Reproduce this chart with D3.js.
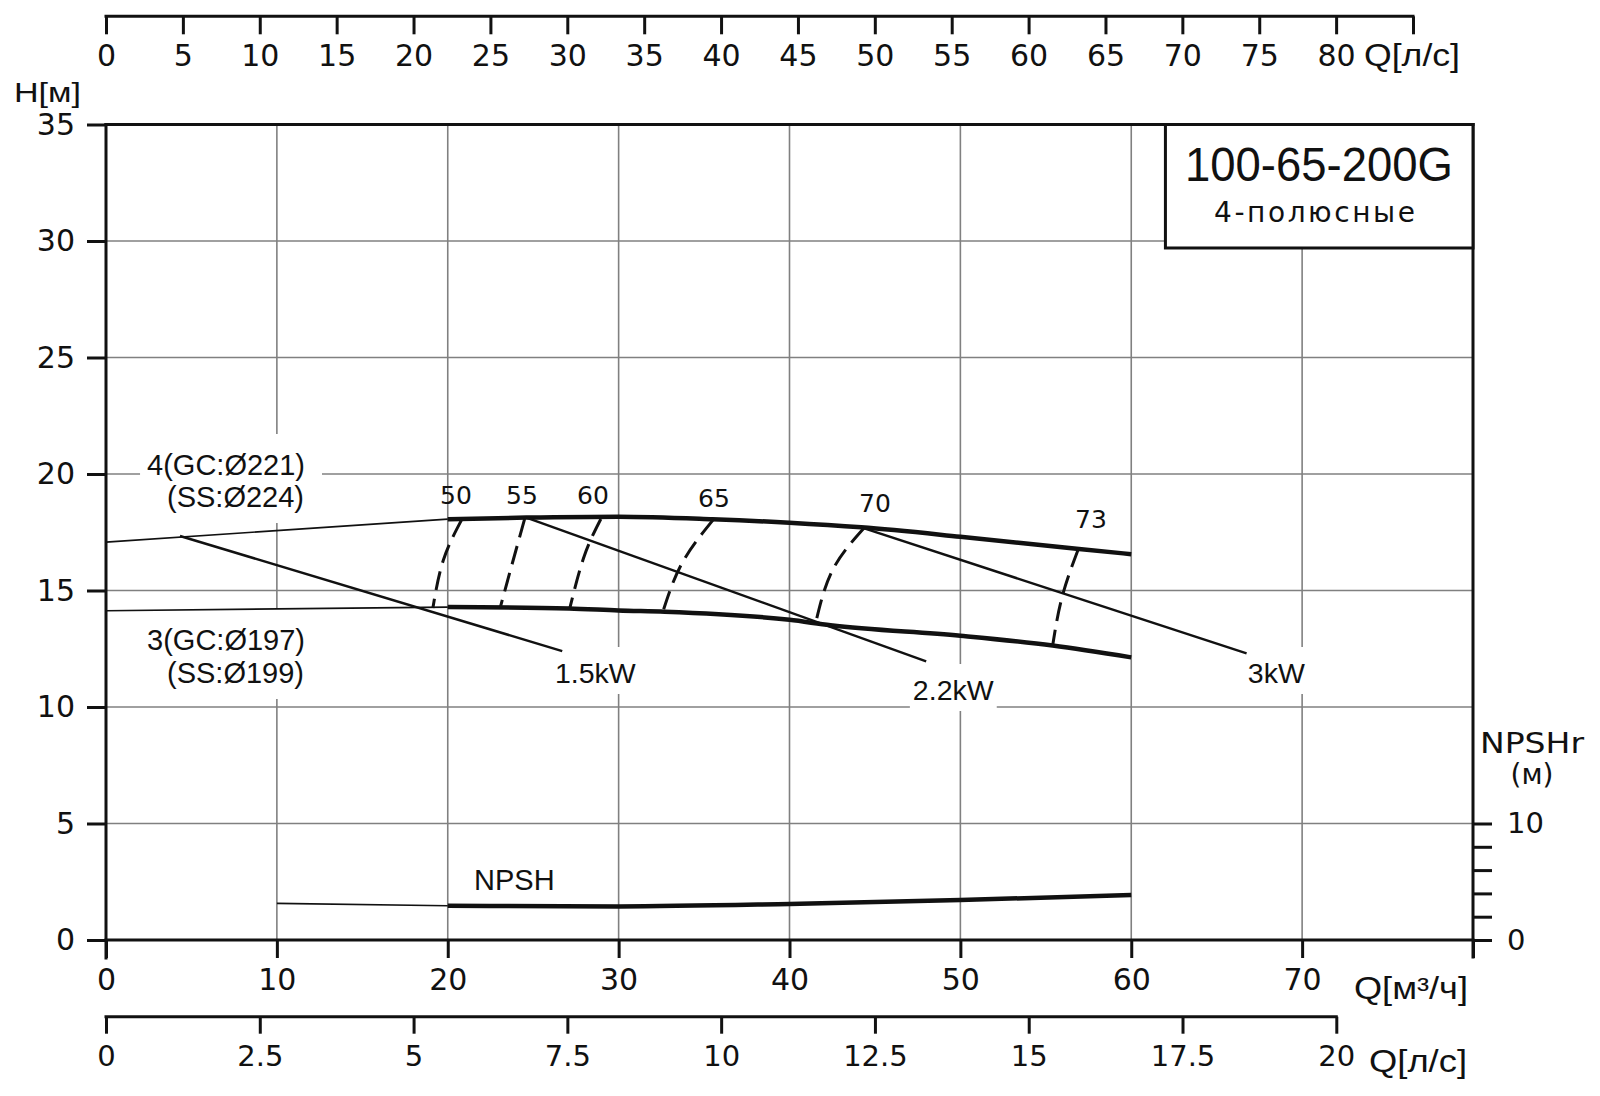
<!DOCTYPE html>
<html><head><meta charset="utf-8">
<script src="https://cdn.jsdelivr.net/npm/d3@7"></script>
<style>body{margin:0;background:#fff}svg{display:block}</style>
</head><body><svg id="c" width="1600" height="1096"></svg>
<script>
// ---------------- DATA ----------------
const mainTicksQ = [0,10,20,30,40,50,60,70,80];
const mainTickLabelsQ = ["0","10","20","30","40","50","60","70",""];
const headTicks = [0,5,10,15,20,25,30,35];
const gridQ = [10,20,30,40,50,60,70];
const gridH = [5,10,15,20,25,30];
const topLsTicks = [0,5,10,15,20,25,30,35,40,45,50,55,60,65,70,75,80,85];
const topLsLabels = ["0","5","10","15","20","25","30","35","40","45","50","55","60","65","70","75","80",""];
const botLsTicks = [0,2.5,5,7.5,10,12.5,15,17.5,20];
const botLsLabels = ["0","2.5","5","7.5","10","12.5","15","17.5","20"];
const npshTicks = [0,2,4,6,8,10];
const npshTickLabels = ["0","","","","","10"];

// impeller curve 4 (Ø221 / Ø224)
const curve4Q = [0, 20, 24.6, 30, 35.5, 40, 44.2, 50, 56.8, 60];
const curve4H = [17.08, 18.06, 18.13, 18.17, 18.06, 17.91, 17.71, 17.31, 16.79, 16.56];
// impeller curve 3 (Ø197 / Ø199)
const curve3Q = [0, 20, 27.1, 30, 32.7, 40, 42.4, 50, 55.4, 60];
const curve3H = [14.13, 14.29, 14.23, 14.14, 14.09, 13.74, 13.51, 13.06, 12.64, 12.13];
// NPSHr (m)
const npshQ = [10, 20, 30, 40, 50, 60];
const npshR = [3.15, 2.94, 2.88, 3.09, 3.43, 3.86];

// power lines
const powerLabels = ["1.5kW", "2.2kW", "3kW"];
const powerStartQ = [4.33, 24.6, 44.2];
const powerStartH = [17.34, 18.13, 17.71];
const powerEndQ = [26.7, 48.0, 66.75];
const powerEndH = [12.4, 11.96, 12.3];
const powerLabelQ = [26.27, 47.22, 66.82];
const powerLabelH = [11.03, 10.3, 11.03];

// iso-efficiency (%)
const effLabels = ["50", "55", "60", "65", "70", "73"];
const effTopQ = [20.81, 24.5, 28.96, 35.53, 44.35, 56.9];
const effTopH = [18.03, 18.07, 18.07, 18.03, 17.67, 16.77];
const effMidQ = [19.74, 23.78, 27.98, 33.71, 42.53, 55.96];
const effMidH = [16.3, 16.17, 16.46, 16.17, 15.89, 14.74];
const effBotQ = [19.13, 23.08, 27.14, 32.59, 41.55, 55.4];
const effBotH = [14.25, 14.29, 14.23, 14.09, 13.67, 12.64];
const effLabelQ = [20.48, 24.34, 28.5, 35.58, 45.0, 57.64];
const effLabelH = [18.71, 18.71, 18.71, 18.58, 18.37, 17.68];

// texts
const diaLabels4 = ["4(GC:Ø221)", "(SS:Ø224)"];
const diaLabels3 = ["3(GC:Ø197)", "(SS:Ø199)"];
const titleText = "100-65-200G";
const subtitleText = "4-полюсные";

// ---------------- SETUP ----------------
const F = "'Liberation Sans', Arial, sans-serif";
const G = "'DejaVu Sans', sans-serif";
const svg = d3.select("#c");
const x = d3.scaleLinear().domain([0, 80]).range([106, 1473]);
const y = d3.scaleLinear().domain([0, 35]).range([940, 124.5]);
const yN = d3.scaleLinear().domain([0, 10]).range([y(0), y(5)]);
const xTop = d3.scaleLinear().domain([0, 85]).range([106, 1413]);
const xLs = d3.scaleLinear().domain([0, 20]).range([x(0), x(72)]);

const gGrid = svg.append("g");
const gBg = svg.append("g");
const gCurves = svg.append("g");
const gText = svg.append("g");
const gAxes = svg.append("g");

// grid
gGrid.selectAll("line.v").data(gridQ).join("line")
  .attr("x1", d => x(d)).attr("x2", d => x(d)).attr("y1", y(35)).attr("y2", y(0))
  .attr("stroke", "#808080").attr("stroke-width", 1.6);
gGrid.selectAll("line.h").data(gridH).join("line")
  .attr("x1", x(0)).attr("x2", x(80)).attr("y1", d => y(d)).attr("y2", d => y(d))
  .attr("stroke", "#808080").attr("stroke-width", 1.6);

// ---------------- CURVES ----------------
function drawQH(Q, Hs, thinUntil, yS) {
  const pts = Q.map((q, i) => [q, Hs[i]]);
  const ln = d3.line().x(d => x(d[0])).y(d => yS(d[1]));
  const lnS = d3.line().x(d => x(d[0])).y(d => yS(d[1])).curve(d3.curveMonotoneX);
  const thin = pts.filter(p => p[0] <= thinUntil);
  const thick = pts.filter(p => p[0] >= thinUntil);
  gCurves.append("path").attr("d", ln(thin)).attr("fill", "none")
    .attr("stroke", "#111").attr("stroke-width", 1.7);
  gCurves.append("path").attr("d", lnS(thick)).attr("fill", "none")
    .attr("stroke", "#111").attr("stroke-width", 4.5).attr("stroke-linecap", "butt");
}
drawQH(curve4Q, curve4H, 20, y);
drawQH(curve3Q, curve3H, 20, y);
drawQH(npshQ, npshR, 20, yN);

// power lines
powerLabels.forEach((lab, i) => {
  gCurves.append("line")
    .attr("x1", x(powerStartQ[i])).attr("y1", y(powerStartH[i]))
    .attr("x2", x(powerEndQ[i])).attr("y2", y(powerEndH[i]))
    .attr("stroke", "#111").attr("stroke-width", 2.5);
});

// efficiency dashed curves
const effLine = d3.line().x(d => x(d[0])).y(d => y(d[1])).curve(d3.curveNatural);
effLabels.forEach((lab, i) => {
  const pts = [[effTopQ[i], effTopH[i]], [effMidQ[i], effMidH[i]], [effBotQ[i], effBotH[i]]];
  gCurves.append("path").attr("d", effLine(pts)).attr("fill", "none")
    .attr("stroke", "#111").attr("stroke-width", 3).attr("stroke-dasharray", "19,9");
});

// ---------------- TEXT ----------------
function addBg(sel, pad) {
  const b = sel.node().getBBox();
  gBg.append("rect").attr("x", b.x - pad[0]).attr("y", b.y - pad[1])
    .attr("width", b.width + pad[0] + pad[2]).attr("height", b.height + pad[1] + pad[3])
    .attr("fill", "#fff");
}

effLabels.forEach((lab, i) => {
  gText.append("text").attr("x", x(effLabelQ[i])).attr("y", y(effLabelH[i]))
    .attr("text-anchor", "middle").attr("font-family", G).attr("font-size", 25)
    .attr("fill", "#111").text(lab);
});

powerLabels.forEach((lab, i) => {
  const t = gText.append("text").attr("x", x(powerLabelQ[i])).attr("y", y(powerLabelH[i]))
    .attr("font-family", F).attr("font-size", 28.5).attr("fill", "#111").text(lab);
  addBg(t, [3, 10, 3, 5]);
});

function diaBlock(lines, b1, b2) {
  const g = gText.append("g");
  g.append("text").attr("x", 305).attr("y", b1).attr("text-anchor", "end")
    .attr("font-family", F).attr("font-size", 29).attr("fill", "#111").text(lines[0]);
  g.append("text").attr("x", 304).attr("y", b2).attr("text-anchor", "end")
    .attr("font-family", F).attr("font-size", 29).attr("fill", "#111").text(lines[1]);
  addBg(g, [7, 15, 17, 10]);
}
diaBlock(diaLabels4, 475, 507);
diaBlock(diaLabels3, 650, 683);

gText.append("text").attr("x", 474).attr("y", 890)
  .attr("font-family", F).attr("font-size", 29).attr("fill", "#111").text("NPSH");

// ---------------- AXES ----------------
function styleAxis(g) {
  g.select(".domain").remove();
  g.selectAll(".tick line").attr("stroke", "#111").attr("stroke-width", 3);
  g.selectAll(".tick text").attr("fill", "#111");
}

// left H axis
const axL = gAxes.append("g").attr("transform", `translate(${x(0)},0)`)
  .call(d3.axisLeft(y).tickValues(headTicks).tickSize(19).tickPadding(12).tickSizeOuter(0));
styleAxis(axL);
axL.selectAll(".tick text").attr("font-family", G).attr("font-size", 30);

// bottom Q m3/h axis
const axB = gAxes.append("g").attr("transform", `translate(0,${y(0)})`)
  .call(d3.axisBottom(x).tickValues(mainTicksQ).tickSize(18).tickPadding(11)
    .tickFormat((d, i) => mainTickLabelsQ[i]).tickSizeOuter(0));
styleAxis(axB);
axB.selectAll(".tick text").attr("font-family", G).attr("font-size", 30);

// top l/s axis
const yTopAxis = 16.3;
const axT = gAxes.append("g").attr("transform", `translate(0,${yTopAxis})`)
  .call(d3.axisBottom(xTop).tickValues(topLsTicks).tickSize(18).tickPadding(10)
    .tickFormat((d, i) => topLsLabels[i]).tickSizeOuter(0));
styleAxis(axT);
axT.selectAll(".tick text").attr("font-family", G).attr("font-size", 30);

// bottom l/s axis
const yLsAxis = 1016.7;
const axLs = gAxes.append("g").attr("transform", `translate(0,${yLsAxis})`)
  .call(d3.axisBottom(xLs).tickValues(botLsTicks).tickSize(17).tickPadding(12)
    .tickFormat((d, i) => botLsLabels[i]).tickSizeOuter(0));
styleAxis(axLs);
axLs.selectAll(".tick text").attr("font-family", G).attr("font-size", 29);

// right NPSHr axis
const axR = gAxes.append("g").attr("transform", `translate(${x(80)},0)`)
  .call(d3.axisRight(yN).tickValues(npshTicks).tickSize(19).tickPadding(15)
    .tickFormat((d, i) => npshTickLabels[i]).tickSizeOuter(0));
styleAxis(axR);
axR.selectAll(".tick text").attr("font-family", G).attr("font-size", 29);

// frame / axis lines
const frame = [
  [x(0), y(35), x(0), y(0) + 18],
  [x(0), y(35), x(80), y(35)],
  [x(80), y(35), x(80), y(0) + 17],
  [x(0), y(0), x(80), y(0)],
  [xTop(0), yTopAxis, xTop(85), yTopAxis],
  [xLs(0), yLsAxis, xLs(20), yLsAxis]
];
gAxes.selectAll("line.frame").data(frame).join("line")
  .attr("x1", d => d[0]).attr("y1", d => d[1]).attr("x2", d => d[2]).attr("y2", d => d[3])
  .attr("stroke", "#111").attr("stroke-width", 3).attr("stroke-linecap", "square");

// axis titles
gAxes.append("text").attr("x", 14).attr("y", 101.5).attr("font-family", F).attr("font-size", 28)
  .attr("textLength", 67).attr("lengthAdjust", "spacingAndGlyphs").attr("fill", "#111").text("H[м]");
gAxes.append("text").attr("x", 1364).attr("y", 66).attr("font-family", F).attr("font-size", 31)
  .attr("textLength", 96).attr("lengthAdjust", "spacingAndGlyphs").attr("fill", "#111").text("Q[л/с]");
gAxes.append("text").attr("x", 1354).attr("y", 999).attr("font-family", F).attr("font-size", 31)
  .attr("textLength", 114).attr("lengthAdjust", "spacingAndGlyphs").attr("fill", "#111").text("Q[м³/ч]");
gAxes.append("text").attr("x", 1369).attr("y", 1072).attr("font-family", F).attr("font-size", 31)
  .attr("textLength", 98).attr("lengthAdjust", "spacingAndGlyphs").attr("fill", "#111").text("Q[л/с]");
gAxes.append("text").attr("x", 1532).attr("y", 752.5).attr("text-anchor", "middle")
  .attr("font-family", G).attr("font-size", 28).attr("textLength", 104).attr("lengthAdjust", "spacingAndGlyphs")
  .attr("fill", "#111").text("NPSHr");
gAxes.append("text").attr("x", 1532).attr("y", 784).attr("text-anchor", "middle")
  .attr("font-family", G).attr("font-size", 28).attr("fill", "#111").text("(м)");

// title box
const boxQ0 = 62.0, boxH1 = 29.7;
gAxes.append("rect").attr("x", x(boxQ0)).attr("y", y(35)).attr("width", x(80) - x(boxQ0))
  .attr("height", y(boxH1) - y(35)).attr("fill", "#fff").attr("stroke", "#111").attr("stroke-width", 3);
gAxes.append("text").attr("x", 1319).attr("y", 181).attr("text-anchor", "middle")
  .attr("font-family", F).attr("font-size", 48).attr("textLength", 268).attr("lengthAdjust", "spacingAndGlyphs")
  .attr("fill", "#111").text(titleText);
gAxes.append("text").attr("x", 1314.5).attr("y", 222).attr("text-anchor", "middle")
  .attr("font-family", G).attr("font-size", 28).attr("textLength", 201).attr("lengthAdjust", "spacing")
  .attr("fill", "#111").text(subtitleText);
</script>
</body></html>
